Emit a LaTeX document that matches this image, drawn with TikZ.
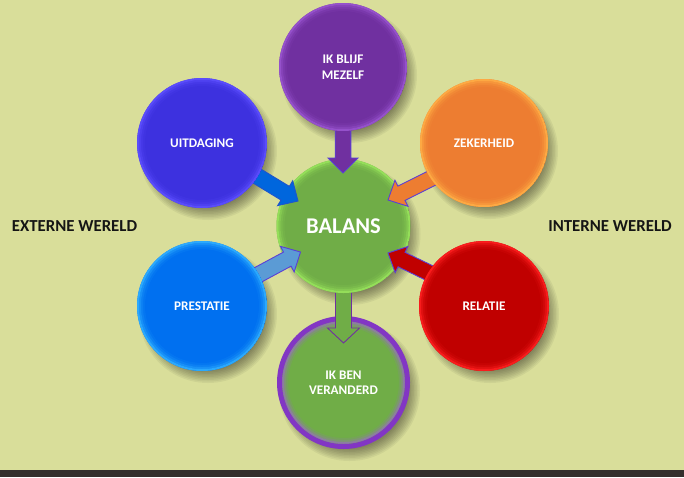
\documentclass[tikz,border=0pt]{standalone}
\usepackage{fontspec}
\setmainfont{Carlito}
\usetikzlibrary{calc}
\definecolor{bgc}{HTML}{D9DE9A}
\definecolor{barc}{HTML}{342F2C}
\definecolor{mezc}{HTML}{7030A0}\definecolor{mezr}{HTML}{9A55D0}
\definecolor{uitc}{HTML}{3D31DF}\definecolor{uitr}{HTML}{5E50FF}
\definecolor{zekc}{HTML}{ED7D31}\definecolor{zekr}{HTML}{FFAE45}
\definecolor{balc}{HTML}{70AD47}\definecolor{balr}{HTML}{98E45C}
\definecolor{prec}{HTML}{0070F0}\definecolor{prer}{HTML}{30B0FF}
\definecolor{relc}{HTML}{C00000}\definecolor{relr}{HTML}{FF2020}
\definecolor{verring}{HTML}{8236C4}\definecolor{verr}{HTML}{A060DC}
\definecolor{aUit}{HTML}{0066DD}\definecolor{oUit}{HTML}{1F55CC}
\definecolor{aPre}{HTML}{5B9BD5}\definecolor{oArr}{HTML}{5A3FD6}
\definecolor{txtc}{HTML}{151515}
\tikzset{
  bubble/.style={circle, inner sep=0pt, text=white, align=center,
    font=\bfseries\fontsize{13.2}{15.5}\selectfont},
  side/.style={text=txtc, font=\bfseries\fontsize{16.8}{18}\selectfont, inner sep=0pt},
}
\newcommand\bshadow[3]{\foreach \k in {0,...,8}{\fill[black,opacity=0.05] ({#1+6},{#2+8}) circle ({#3+4-1.5*\k});}}
\newcommand\bubble[7]{%
  \node[bubble, minimum size={2*#4*1pt}, fill=#5,
    path picture={\foreach \k/\o in {0/0.9,1/0.5,2/0.25,3/0.1}{\draw[#6,line width=2pt,opacity=\o] (path picture bounding box.center) circle ({#4-1-2*\k});}}]
    (#1) at (#2,#3) {#7};}
\newcommand\blockarrow[6]{% tail, tip, fill, outline, half shaft, half head
  \draw[fill=#3, draw=#4, line width=0.9pt, line join=miter]
    let \p1=($(#2)-(#1)$), \n1={atan2(\y1,\x1)}, \n2={veclen(\x1,\y1)} in
    ($(#1)+(\n1+90:#5)$) -- ($(#1)+(\n1:\n2-15pt)+(\n1+90:#5)$) --
    ($(#1)+(\n1:\n2-15pt)+(\n1+90:#6)$) -- (#2) --
    ($(#1)+(\n1:\n2-15pt)+(\n1-90:#6)$) -- ($(#1)+(\n1:\n2-15pt)+(\n1-90:#5)$) --
    ($(#1)+(\n1-90:#5)$) -- cycle;}
\begin{document}
\begin{tikzpicture}[x=1pt,y=-1pt]
\useasboundingbox (0,0) rectangle (684,477);
\fill[bgc] (0,0) rectangle (684,477);
\fill[barc] (0,470) rectangle (684,477);
% shadows
\bshadow{343}{67}{64}
\bshadow{202}{143}{65}
\bshadow{484}{143}{64}
\bshadow{343.5}{226}{67}
\bshadow{202}{306}{65}
\bshadow{484}{306}{65}
\bshadow{343.5}{382.5}{66.5}
% bottom circle
\node[bubble, minimum size=128pt, fill=balc, draw=verring, line width=5pt,
  path picture={\foreach \k/\o in {0/0.6,1/0.3,2/0.12}{\draw[verr,line width=2pt,opacity=\o] (path picture bounding box.center) circle ({61.5-1-2*\k});}}]
  (ver) at (343.5,382.5) {IK BEN\\VERANDERD};
% arrow balans -> ver
\coordinate (vT) at (343.5,270);
\coordinate (vH) at (343.5,343);
\blockarrow{vT}{vH}{balc}{mezc}{8pt}{16pt}
% balans
\bubble{bal}{343.5}{226}{67}{balc}{balr}{\fontsize{22.5}{24}\selectfont BALANS}
% incoming arrows
\coordinate (mT) at (343,105);
\coordinate (mH) at (343,173);
\coordinate (uT) at (238,164.5);
\coordinate (uH) at (298,201);
\coordinate (zT) at (450,169);
\coordinate (zH) at (388,200);
\coordinate (pT) at (241,284);
\coordinate (pH) at (300.5,252);
\coordinate (rT) at (450,283);
\coordinate (rH) at (388,253);
\blockarrow{mT}{mH}{mezc}{oArr}{7.8pt}{15pt}
\blockarrow{uT}{uH}{aUit}{oUit}{8pt}{14.5pt}
\blockarrow{zT}{zH}{zekc}{oArr}{8pt}{14.5pt}
\blockarrow{pT}{pH}{aPre}{oArr}{8pt}{14.5pt}
\blockarrow{rT}{rH}{relc}{oArr}{8pt}{14.5pt}
% outer circles
\bubble{mez}{343}{67}{64}{mezc}{mezr}{IK BLIJF\\MEZELF}
\bubble{uit}{202}{143}{65}{uitc}{uitr}{UITDAGING}
\bubble{zek}{484}{143}{64}{zekc}{zekr}{ZEKERHEID}
\bubble{pre}{202}{306}{65}{prec}{prer}{PRESTATIE}
\bubble{rel}{484}{306}{65}{relc}{relr}{RELATIE}
% side labels
\node[side] (ext) at (74.5,226) {EXTERNE WERELD};
\node[side] (int) at (610,226) {INTERNE WERELD};
\end{tikzpicture}
\end{document}
